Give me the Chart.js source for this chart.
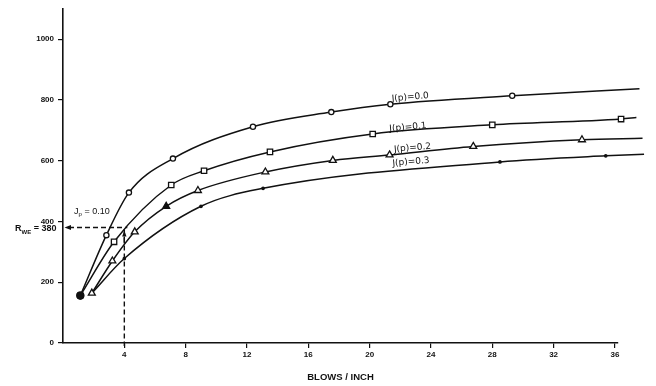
<!DOCTYPE html>
<html>
<head>
<meta charset="utf-8">
<script src="https://cdn.jsdelivr.net/npm/chart.js@4.4.1/dist/chart.umd.min.js"></script>
<style>
  html, body { margin: 0; padding: 0; background: #fff; }
  #wrap { width: 656px; height: 386px; position: relative; }
</style>
</head>
<body>
<div id="wrap"><canvas id="c" width="656" height="386"></canvas></div>
<script>
// Resistance versus blows per inch, one curve per J(p) value
const jp00X = [1.13, 2.83, 4.3, 7.17, 12.39, 17.5, 21.35, 29.3, 37.6];
const jp00Y = [156, 355, 495, 607, 712, 760, 786, 814, 837];
const jp01X = [1.13, 3.33, 7.06, 9.2, 13.5, 20.2, 28.0, 36.4, 37.4];
const jp01Y = [156, 333, 520, 567, 629, 688, 718, 737, 742];
const jp02X = [1.88, 3.22, 4.68, 6.73, 8.8, 13.2, 17.6, 21.3, 26.76, 33.85, 37.8];
const jp02Y = [164, 270, 366, 450, 502, 563, 601, 619, 647, 669, 674];
const jp03X = [1.88, 4.0, 9.0, 13.05, 28.5, 35.4, 37.9];
const jp03Y = [164, 278, 450, 509, 596, 616, 621];

const seriesNames = ['J(p)=0.0', 'J(p)=0.1', 'J(p)=0.2', 'J(p)=0.3'];
const xTickValues = [4, 8, 12, 16, 20, 24, 28, 32, 36];
const yTickValues = [0, 200, 400, 600, 800, 1000];
const xTitle = 'BLOWS / INCH';

// Reading taken off the J(p)=0.10 curve
const refBlows = 4;
const refR = 380;

const INK = '#111';

function pts(xs, ys) { return xs.map((x, i) => ({ x: x, y: ys[i] })); }

// Marker styling per point: style, radius and fill
function markers(n, style, radius, fill, special) {
  const s = [], r = [], bg = [];
  for (let i = 0; i < n; i++) {
    const o = special[i] || {};
    s.push(o.style || style);
    r.push(o.radius !== undefined ? o.radius : radius);
    bg.push(o.fill || fill);
  }
  return { pointStyle: s, pointRadius: r, pointBackgroundColor: bg };
}

function curve(xs, ys, mk) {
  return Object.assign({
    data: pts(xs, ys),
    showLine: true,
    borderColor: INK,
    borderWidth: 1.5,
    cubicInterpolationMode: 'monotone',
    pointBorderColor: INK,
    pointBorderWidth: 1.3,
    pointHoverRadius: 0,
    clip: false
  }, mk);
}

const datasets = [
  curve(jp00X, jp00Y, markers(jp00X.length, 'circle', 2.6, '#fff',
    { 0: { radius: 3.4, fill: INK } })),
  curve(jp01X, jp01Y, markers(jp01X.length, 'rect', 3.8, '#fff',
    { 0: { style: 'circle', radius: 3.4, fill: INK }, [jp01X.length - 1]: { radius: 0 } })),
  curve(jp02X, jp02Y, markers(jp02X.length, 'triangle', 4.0, '#fff',
    { 3: { fill: INK }, [jp02X.length - 1]: { radius: 0 } })),
  curve(jp03X, jp03Y, markers(jp03X.length, 'circle', 1.2, INK,
    { 0: { radius: 0 }, [jp03X.length - 1]: { radius: 0 } }))
];

// Curve labels, placed in data units along each curve
const labelSpots = [
  { x: 22.65, y: 809 },
  { x: 22.5, y: 710 },
  { x: 22.8, y: 642 },
  { x: 22.7, y: 596 }
];

function subText(ctx, x, y, main, sub, rest, size, weight) {
  ctx.textBaseline = 'alphabetic';
  ctx.textAlign = 'left';
  ctx.font = weight + ' ' + size + 'px "Liberation Sans", Arial, sans-serif';
  ctx.fillText(main, x, y);
  x += ctx.measureText(main).width;
  ctx.font = weight + ' ' + Math.round(size * 0.68) + 'px "Liberation Sans", Arial, sans-serif';
  ctx.fillText(sub, x, y + size * 0.28);
  x += ctx.measureText(sub).width;
  ctx.font = weight + ' ' + size + 'px "Liberation Sans", Arial, sans-serif';
  ctx.fillText(rest, x, y);
}

const annotations = {
  id: 'annotations',
  afterDraw(chart) {
    const ctx = chart.ctx;
    const xs = chart.scales.x, ys = chart.scales.y;
    ctx.save();
    ctx.fillStyle = INK;
    ctx.strokeStyle = INK;

    // curve labels
    ctx.font = '9px "DejaVu Sans", sans-serif';
    ctx.textAlign = 'center';
    ctx.textBaseline = 'middle';
    seriesNames.forEach((t, i) => {
      const p = labelSpots[i];
      ctx.save();
      ctx.translate(xs.getPixelForValue(p.x), ys.getPixelForValue(p.y));
      ctx.rotate(-5 * Math.PI / 180);
      ctx.fillText(t, 0, 0);
      ctx.restore();
    });

    // dashed read-off lines
    const px = xs.getPixelForValue(refBlows);
    const py = ys.getPixelForValue(refR);
    const x0 = xs.getPixelForValue(0);
    const y0 = ys.getPixelForValue(0);
    ctx.lineWidth = 1.4;
    ctx.setLineDash([5, 3]);
    ctx.beginPath();
    ctx.moveTo(x0 + 6, py);
    ctx.lineTo(px + 3, py);
    ctx.moveTo(px, py + 2);
    ctx.lineTo(px, y0 + 3);
    ctx.stroke();
    ctx.setLineDash([]);

    // arrowheads
    ctx.beginPath();
    ctx.moveTo(x0 + 1.5, py);
    ctx.lineTo(x0 + 8, py - 2.5);
    ctx.lineTo(x0 + 8, py + 2.5);
    ctx.closePath();
    ctx.fill();
    ctx.beginPath();
    ctx.moveTo(px, py + 3);
    ctx.lineTo(px - 2.2, py + 9);
    ctx.lineTo(px + 2.2, py + 9);
    ctx.closePath();
    ctx.fill();
    ctx.beginPath();
    ctx.moveTo(px, py + 9);
    ctx.lineTo(px, py + 16);
    ctx.stroke();

    // read-off captions
    subText(ctx, xs.getPixelForValue(0.72), ys.getPixelForValue(425), 'J', 'p', ' = 0.10', 9, 'normal');
    subText(ctx, 15, py + 3.5, 'R', 'WE', ' = 380', 9, 'bold');

    ctx.restore();
  }
};

const tickFont = { family: '"Liberation Sans", Arial, sans-serif', size: 8, weight: 'bold' };

new Chart(document.getElementById('c'), {
  type: 'scatter',
  data: { datasets: datasets },
  options: {
    responsive: false,
    animation: false,
    devicePixelRatio: 1,
    events: [],
    layout: { padding: { top: 5, right: 38, bottom: 0, left: 0 } },
    plugins: { legend: { display: false }, tooltip: { enabled: false } },
    scales: {
      x: {
        type: 'linear',
        bounds: 'data',
        afterBuildTicks(s) {
          s.min = 0;
          s.max = 36.2;
          s.ticks = xTickValues.map(v => ({ value: v }));
        },
        afterFit(s) { s.height = 43; },
        grid: { display: true, drawOnChartArea: false, drawTicks: true, tickLength: 5, tickColor: INK, lineWidth: 1.2 },
        border: { display: true, color: INK, width: 1.6 },
        ticks: { color: INK, font: tickFont, padding: 2, maxRotation: 0, autoSkip: false, callback: v => String(v) },
        title: {
          display: true, text: xTitle, color: INK,
          font: { family: '"Liberation Sans", Arial, sans-serif', size: 9.5, weight: 'bold' },
          padding: { top: 0, bottom: 3 }
        }
      },
      y: {
        type: 'linear',
        bounds: 'data',
        afterBuildTicks(s) {
          s.min = 0;
          s.max = 1100;
          s.ticks = yTickValues.map(v => ({ value: v }));
        },
        afterFit(s) { s.width = 63; },
        grid: { display: true, drawOnChartArea: false, drawTicks: true, tickLength: 5, tickColor: INK, lineWidth: 1.2 },
        border: { display: true, color: INK, width: 1.6 },
        ticks: { color: INK, font: tickFont, padding: 4, autoSkip: false, callback: v => String(v) }
      }
    }
  },
  plugins: [annotations]
});
</script>
</body>
</html>
